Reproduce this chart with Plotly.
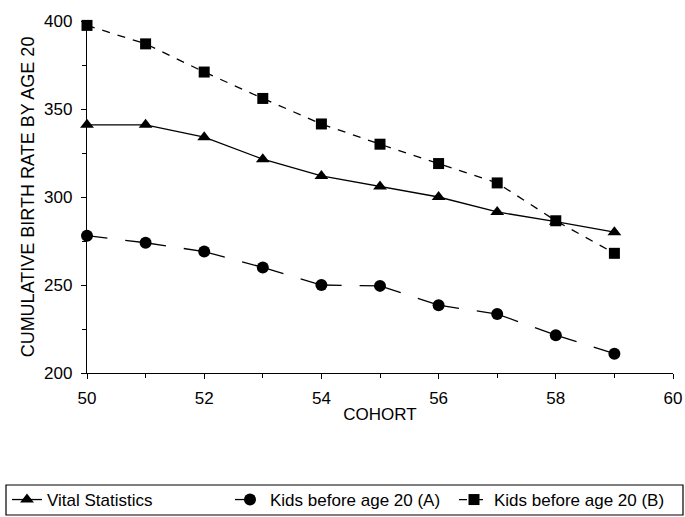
import math
import plotly.graph_objects as go

cohort = [50, 51, 52, 53, 54, 55, 56, 57, 58, 59]
vital_statistics = [341, 341, 334, 321.5, 312, 306, 300, 291.5, 286, 280]
kids_a = [278, 274, 269, 260, 250, 249.5, 238.5, 233.5, 221.5, 211]
kids_b = [397.5, 387, 371, 356, 341.5, 330, 319, 308, 286.5, 268]

x_ticks = [50, 52, 54, 56, 58, 60]
y_ticks = [200, 250, 300, 350, 400]

X_RANGE = [50, 60]
Y_RANGE = [200, 400]
W, H = 685, 517
M = dict(l=87, r=12, t=21, b=144)
PW = W - M["l"] - M["r"]
PH = H - M["t"] - M["b"]

# style helper: long dash pattern with one gap centred in each segment (like the original)
px_x = PW / (X_RANGE[1] - X_RANGE[0])
px_y = PH / (Y_RANGE[1] - Y_RANGE[0])
GAP = 18
parts = []
carry = 0.0
for i in range(len(cohort) - 1):
    L = math.hypot((cohort[i + 1] - cohort[i]) * px_x, (kids_a[i + 1] - kids_a[i]) * px_y)
    half = (L - GAP) / 2
    parts.append(carry + half)
    parts.append(GAP)
    carry = half
parts.append(carry + 50)
parts.append(10)
dash_a = ",".join(f"{p:.1f}px" for p in parts)

font = dict(family="Liberation Sans, Arial, sans-serif", size=17, color="black")
ytitle_font = dict(family="Liberation Sans Narrow, Arial Narrow, Liberation Sans, sans-serif",
                   size=18, color="black")
legend_font = dict(family="Liberation Sans, Arial, sans-serif", size=17, color="black")

fig = go.Figure()
fig.add_trace(go.Scatter(
    x=cohort, y=vital_statistics, name="Vital Statistics", mode="lines+markers",
    line=dict(color="black", width=1.3),
    marker=dict(symbol="triangle-up", size=12, color="black"), cliponaxis=False,
    legend="legend"))
fig.add_trace(go.Scatter(
    x=cohort, y=kids_a, name="Kids before age 20 (A)", mode="lines+markers",
    line=dict(color="black", width=1.3, dash=dash_a),
    marker=dict(symbol="circle", size=12, color="black"), cliponaxis=False,
    legend="legend2"))
fig.add_trace(go.Scatter(
    x=cohort, y=kids_b, name="Kids before age 20 (B)", mode="lines+markers",
    line=dict(color="black", width=1.3, dash="8px,8px"),
    marker=dict(symbol="square", size=11, color="black"), cliponaxis=False,
    legend="legend3"))

axis_common = dict(showgrid=False, zeroline=False, showline=True, linecolor="black",
                   linewidth=1.3, tickcolor="black", automargin=False)

LEG_Y = 1 - 500 / H


def leg(px_left):
    return dict(orientation="h", xref="container", yref="container",
                x=px_left / W, xanchor="left", y=LEG_Y, yanchor="middle",
                borderwidth=0, bgcolor="rgba(0,0,0,0)", font=legend_font, itemwidth=30)


fig.update_layout(
    width=W, height=H,
    margin=M,
    paper_bgcolor="white", plot_bgcolor="white",
    font=font,
    showlegend=True,
    legend=leg(7), legend2=leg(230), legend3=leg(454),
    shapes=[dict(type="rect", xref="paper", yref="paper",
                 x0=(6 - M["l"]) / PW, x1=(683 - M["l"]) / PW,
                 y0=(H - M["b"] - 485) / PH, y1=(H - M["b"] - 515) / PH,
                 line=dict(color="black", width=1.2), fillcolor="rgba(0,0,0,0)")],
    xaxis=dict(range=X_RANGE, tickvals=x_ticks, ticktext=[str(v) for v in x_ticks],
               ticks="outside", ticklen=5, ticklabelstandoff=4,
               minor=dict(dtick=1, ticks="outside", ticklen=4, tickcolor="black"),
               title=dict(text="COHORT", standoff=1, font=font), tickfont=font,
               **axis_common),
    yaxis=dict(range=Y_RANGE, tickvals=y_ticks, ticktext=[str(v) for v in y_ticks],
               ticks="outside", ticklen=5, ticklabelstandoff=5,
               minor=dict(dtick=25, ticks="outside", ticklen=4, tickcolor="black"),
               title=dict(text="CUMULATIVE BIRTH RATE BY AGE 20", standoff=4, font=ytitle_font),
               tickfont=font, **axis_common),
)

fig.write_html("out.html", config={"displayModeBar": False},
               post_script="document.body.style.margin='0px';")
